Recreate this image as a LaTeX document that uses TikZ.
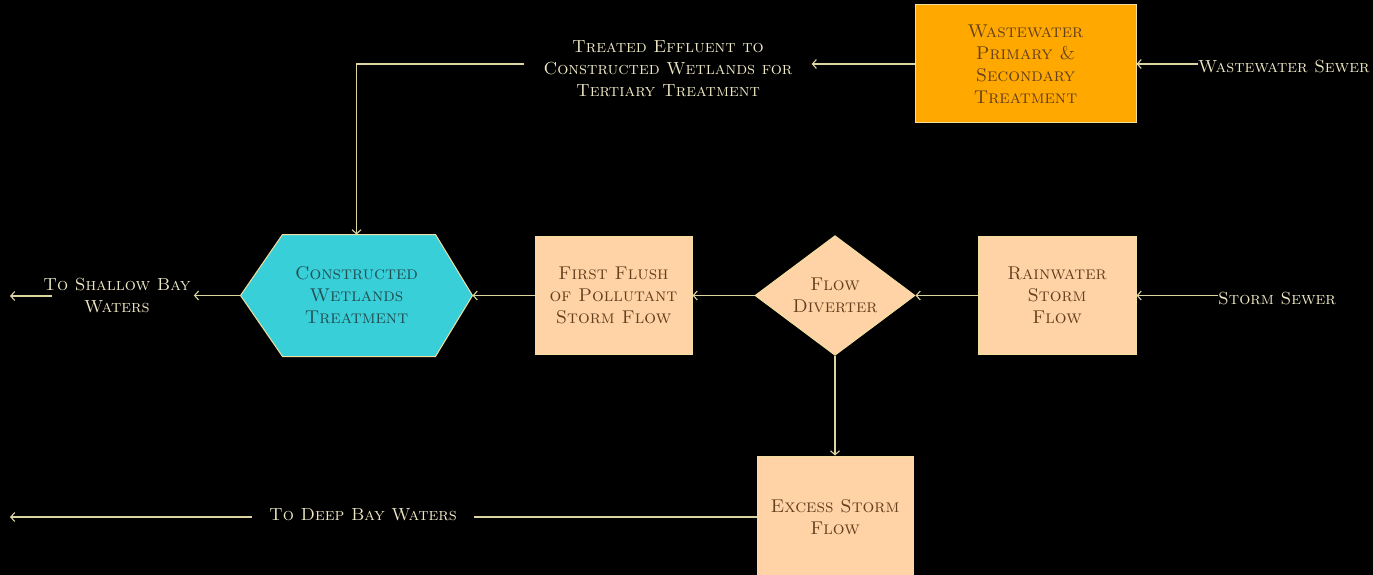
\documentclass[tikz,border=0pt]{standalone}
\usetikzlibrary{shapes.geometric,arrows.meta,calc}
\definecolor{orng}{HTML}{FFA800}
\definecolor{peach}{HTML}{FFD3A6}
\definecolor{cyanfill}{HTML}{38CFD9}
\definecolor{edgeline}{HTML}{DCD5A2}
\definecolor{labeltxt}{HTML}{EEE8C4}
\definecolor{boxtxt}{HTML}{633F1E}
\definecolor{hextxt}{HTML}{224E50}
\definecolor{boxborder}{HTML}{F2DFA0}
\pgfdeclarelayer{deep}
\pgfdeclarelayer{background}
\pgfsetlayers{deep,background,main}
\tikzset{
  txt/.style={font=\fontsize{17.5}{22}\selectfont\scshape, align=center},
  box/.style={txt, font=\fontsize{18.5}{22}\selectfont\scshape, draw=boxborder, line width=1pt, fill=peach, text=boxtxt, inner sep=0pt},
  lbl/.style={txt, text=labeltxt, inner sep=0pt},
  conn/.style={draw=edgeline, line width=1.1pt},
  flow/.style={conn, -{Straight Barb[length=4pt,width=9pt]}},
}
\begin{document}
\begin{tikzpicture}[x=1pt,y=-1pt]
\begin{pgfonlayer}{deep}
\fill[black] (0,0) rectangle (1373,575);
\end{pgfonlayer}
\useasboundingbox (0,0) rectangle (1373,575);

\node[box, fill=orng, minimum width=221, minimum height=118] (ww) at (1025.5,64) {Wastewater\\Primary \&\\Secondary\\Treatment};
\node[lbl, anchor=west] (wws) at (1198,67) {Wastewater Sewer};
\node[lbl, inner xsep=19pt] (effl) at (668,69) {Treated Effluent to\\Constructed Wetlands for\\Tertiary Treatment};

\node[box, draw=none, fill=none, text=hextxt, minimum width=231, minimum height=121] (hex) at (356.5,295.5) {Constructed\\Wetlands\\Treatment};
\begin{pgfonlayer}{background}
\filldraw[fill=cyanfill, draw=boxborder, line width=1pt] (hex.west) -- ($(hex.north west)+(42,0)$) -- ($(hex.north east)+(-37,0)$) -- (hex.east) -- ($(hex.south east)+(-37,0)$) -- ($(hex.south west)+(42,0)$) -- cycle;
\end{pgfonlayer}

\node[lbl, inner xsep=3pt] (shallow) at (117,296) {To Shallow Bay\\Waters};
\coordinate (sbend) at (10,296);

\node[box, minimum width=157, minimum height=118] (ff) at (613.5,295.5) {First Flush\\of Pollutant\\Storm Flow};
\node[box, diamond, minimum width=160, minimum height=119] (div) at (835,295.5) {Flow\\Diverter};
\node[box, minimum width=158, minimum height=118] (rain) at (1057,295.5) {Rainwater\\Storm\\Flow};
\node[lbl, anchor=west] (storm) at (1218,299) {Storm Sewer};

\node[box, minimum width=156, minimum height=122] (excess) at (835,517) {Excess Storm\\Flow};
\node[lbl, inner xsep=17pt] (deep) at (363,515) {To Deep Bay Waters};
\coordinate (dend) at (10,517);

\draw[flow] (wws.west |- ww.east) -- (ww.east);
\draw[flow] (ww.west) -- (ww.west -| effl.east);
\draw[flow] (ww.west -| effl.west) -| (hex.north);
\draw[flow] (hex.west) -- (hex.west -| shallow.east);
\draw[flow] ([xshift=12pt]shallow.west) -- (sbend);
\draw[flow] (ff.west) -- (hex.east);
\draw[flow] (div.west) -- (ff.east);
\draw[flow] (rain.west) -- (div.east);
\draw[flow] (rain.east -| storm.west) -- (rain.east);
\draw[flow] (div.south) -- (excess.north);
\draw[conn] (excess.west) -- (excess.west -| deep.east);
\draw[flow] (excess.west -| deep.west) -- (dend);
\end{tikzpicture}
\end{document}
